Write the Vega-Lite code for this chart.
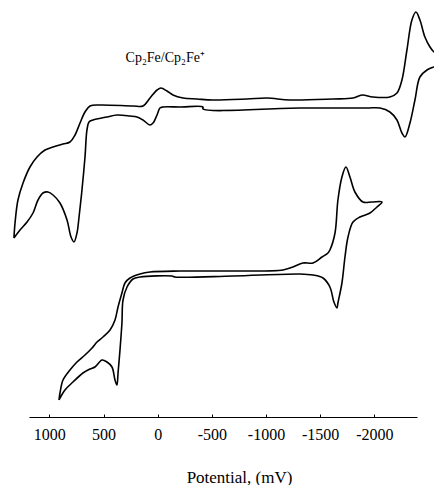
{
  "$schema": "https://vega.github.io/schema/vega-lite/v6.json",
  "width": 388,
  "height": 417,
  "autosize": {"type": "none"},
  "padding": {"left": 29, "right": 17, "top": 0, "bottom": 68},
  "config": {"view": {"stroke": null}, "font": "Liberation Serif"},
  "datasets": {
    "cv": [
      {"trace": "top", "i": 1, "potential": 1327, "current": 179},
      {"trace": "top", "i": 2, "potential": 1317, "current": 194},
      {"trace": "top", "i": 3, "potential": 1290, "current": 217},
      {"trace": "top", "i": 4, "potential": 1243, "current": 234},
      {"trace": "top", "i": 5, "potential": 1179, "current": 250},
      {"trace": "top", "i": 6, "potential": 1114, "current": 260},
      {"trace": "top", "i": 7, "potential": 1040, "current": 267},
      {"trace": "top", "i": 8, "potential": 966, "current": 270},
      {"trace": "top", "i": 9, "potential": 874, "current": 273},
      {"trace": "top", "i": 10, "potential": 810, "current": 275},
      {"trace": "top", "i": 11, "potential": 763, "current": 282},
      {"trace": "top", "i": 12, "potential": 717, "current": 294},
      {"trace": "top", "i": 13, "potential": 671, "current": 305},
      {"trace": "top", "i": 14, "potential": 625, "current": 311},
      {"trace": "top", "i": 15, "potential": 533, "current": 312},
      {"trace": "top", "i": 16, "potential": 228, "current": 311},
      {"trace": "top", "i": 17, "potential": 136, "current": 311},
      {"trace": "top", "i": 18, "potential": 71, "current": 319},
      {"trace": "top", "i": 19, "potential": 6, "current": 327},
      {"trace": "top", "i": 20, "potential": -30, "current": 329},
      {"trace": "top", "i": 21, "potential": -86, "current": 326},
      {"trace": "top", "i": 22, "potential": -141, "current": 322},
      {"trace": "top", "i": 23, "potential": -234, "current": 319},
      {"trace": "top", "i": 24, "potential": -363, "current": 318},
      {"trace": "top", "i": 25, "potential": -510, "current": 317},
      {"trace": "top", "i": 26, "potential": -824, "current": 318},
      {"trace": "top", "i": 27, "potential": -1009, "current": 319},
      {"trace": "top", "i": 28, "potential": -1221, "current": 317},
      {"trace": "top", "i": 29, "potential": -1618, "current": 318},
      {"trace": "top", "i": 30, "potential": -1803, "current": 319},
      {"trace": "top", "i": 31, "potential": -1886, "current": 322},
      {"trace": "top", "i": 32, "potential": -1987, "current": 320},
      {"trace": "top", "i": 33, "potential": -2144, "current": 320},
      {"trace": "top", "i": 34, "potential": -2209, "current": 324},
      {"trace": "top", "i": 35, "potential": -2255, "current": 337},
      {"trace": "top", "i": 36, "potential": -2301, "current": 367},
      {"trace": "top", "i": 37, "potential": -2347, "current": 397},
      {"trace": "top", "i": 38, "potential": -2384, "current": 405},
      {"trace": "top", "i": 39, "potential": -2421, "current": 397},
      {"trace": "top", "i": 40, "potential": -2467, "current": 380},
      {"trace": "top", "i": 41, "potential": -2514, "current": 370},
      {"trace": "top", "i": 42, "potential": -2551, "current": 365},
      {"trace": "top", "i": 43, "potential": -2606, "current": 362},
      {"trace": "top", "i": 44, "potential": -2652, "current": 358},
      {"trace": "top", "i": 45, "potential": -2606, "current": 352},
      {"trace": "top", "i": 46, "potential": -2551, "current": 350},
      {"trace": "top", "i": 47, "potential": -2486, "current": 347},
      {"trace": "top", "i": 48, "potential": -2421, "current": 340},
      {"trace": "top", "i": 49, "potential": -2375, "current": 317},
      {"trace": "top", "i": 50, "potential": -2329, "current": 294},
      {"trace": "top", "i": 51, "potential": -2283, "current": 280},
      {"trace": "top", "i": 52, "potential": -2255, "current": 284},
      {"trace": "top", "i": 53, "potential": -2209, "current": 297},
      {"trace": "top", "i": 54, "potential": -2144, "current": 305},
      {"trace": "top", "i": 55, "potential": -2052, "current": 309},
      {"trace": "top", "i": 56, "potential": -1932, "current": 309},
      {"trace": "top", "i": 57, "potential": -1314, "current": 309},
      {"trace": "top", "i": 58, "potential": -418, "current": 308},
      {"trace": "top", "i": 59, "potential": -418, "current": 310},
      {"trace": "top", "i": 60, "potential": -206, "current": 310},
      {"trace": "top", "i": 61, "potential": -49, "current": 310},
      {"trace": "top", "i": 62, "potential": -21, "current": 309},
      {"trace": "top", "i": 63, "potential": 6, "current": 302},
      {"trace": "top", "i": 64, "potential": 43, "current": 294},
      {"trace": "top", "i": 65, "potential": 71, "current": 292},
      {"trace": "top", "i": 66, "potential": 136, "current": 297},
      {"trace": "top", "i": 67, "potential": 191, "current": 300},
      {"trace": "top", "i": 68, "potential": 256, "current": 301},
      {"trace": "top", "i": 69, "potential": 376, "current": 302},
      {"trace": "top", "i": 70, "potential": 468, "current": 300},
      {"trace": "top", "i": 71, "potential": 597, "current": 297},
      {"trace": "top", "i": 72, "potential": 634, "current": 295},
      {"trace": "top", "i": 73, "potential": 653, "current": 287},
      {"trace": "top", "i": 74, "potential": 671, "current": 260},
      {"trace": "top", "i": 75, "potential": 699, "current": 227},
      {"trace": "top", "i": 76, "potential": 726, "current": 200},
      {"trace": "top", "i": 77, "potential": 745, "current": 184},
      {"trace": "top", "i": 78, "potential": 773, "current": 175},
      {"trace": "top", "i": 79, "potential": 800, "current": 180},
      {"trace": "top", "i": 80, "potential": 837, "current": 197},
      {"trace": "top", "i": 81, "potential": 902, "current": 214},
      {"trace": "top", "i": 82, "potential": 966, "current": 222},
      {"trace": "top", "i": 83, "potential": 1013, "current": 225},
      {"trace": "top", "i": 84, "potential": 1059, "current": 224},
      {"trace": "top", "i": 85, "potential": 1105, "current": 217},
      {"trace": "top", "i": 86, "potential": 1151, "current": 204},
      {"trace": "top", "i": 87, "potential": 1206, "current": 195},
      {"trace": "top", "i": 88, "potential": 1271, "current": 187},
      {"trace": "top", "i": 89, "potential": 1327, "current": 179},
      {"trace": "bottom", "i": 1, "potential": 911, "current": 17},
      {"trace": "bottom", "i": 2, "potential": 902, "current": 24},
      {"trace": "bottom", "i": 3, "potential": 874, "current": 37},
      {"trace": "bottom", "i": 4, "potential": 810, "current": 47},
      {"trace": "bottom", "i": 5, "potential": 745, "current": 55},
      {"trace": "bottom", "i": 6, "potential": 671, "current": 62},
      {"trace": "bottom", "i": 7, "potential": 606, "current": 69},
      {"trace": "bottom", "i": 8, "potential": 560, "current": 75},
      {"trace": "bottom", "i": 9, "potential": 505, "current": 80},
      {"trace": "bottom", "i": 10, "potential": 440, "current": 87},
      {"trace": "bottom", "i": 11, "potential": 394, "current": 97},
      {"trace": "bottom", "i": 12, "potential": 366, "current": 110},
      {"trace": "bottom", "i": 13, "potential": 330, "current": 124},
      {"trace": "bottom", "i": 14, "potential": 302, "current": 134},
      {"trace": "bottom", "i": 15, "potential": 256, "current": 139},
      {"trace": "bottom", "i": 16, "potential": 163, "current": 143},
      {"trace": "bottom", "i": 17, "potential": 71, "current": 145},
      {"trace": "bottom", "i": 18, "potential": -206, "current": 146},
      {"trace": "bottom", "i": 19, "potential": -695, "current": 146},
      {"trace": "bottom", "i": 20, "potential": -1157, "current": 147},
      {"trace": "bottom", "i": 21, "potential": -1249, "current": 150},
      {"trace": "bottom", "i": 22, "potential": -1341, "current": 154},
      {"trace": "bottom", "i": 23, "potential": -1434, "current": 154},
      {"trace": "bottom", "i": 24, "potential": -1517, "current": 160},
      {"trace": "bottom", "i": 25, "potential": -1572, "current": 164},
      {"trace": "bottom", "i": 26, "potential": -1590, "current": 167},
      {"trace": "bottom", "i": 27, "potential": -1637, "current": 184},
      {"trace": "bottom", "i": 28, "potential": -1664, "current": 217},
      {"trace": "bottom", "i": 29, "potential": -1701, "current": 240},
      {"trace": "bottom", "i": 30, "potential": -1738, "current": 250},
      {"trace": "bottom", "i": 31, "potential": -1775, "current": 240},
      {"trace": "bottom", "i": 32, "potential": -1821, "current": 225},
      {"trace": "bottom", "i": 33, "potential": -1895, "current": 215},
      {"trace": "bottom", "i": 34, "potential": -1978, "current": 215},
      {"trace": "bottom", "i": 35, "potential": -2071, "current": 215},
      {"trace": "bottom", "i": 36, "potential": -2024, "current": 210},
      {"trace": "bottom", "i": 37, "potential": -1960, "current": 204},
      {"trace": "bottom", "i": 38, "potential": -1867, "current": 200},
      {"trace": "bottom", "i": 39, "potential": -1803, "current": 195},
      {"trace": "bottom", "i": 40, "potential": -1757, "current": 180},
      {"trace": "bottom", "i": 41, "potential": -1729, "current": 160},
      {"trace": "bottom", "i": 42, "potential": -1701, "current": 134},
      {"trace": "bottom", "i": 43, "potential": -1664, "current": 114},
      {"trace": "bottom", "i": 44, "potential": -1655, "current": 109},
      {"trace": "bottom", "i": 45, "potential": -1627, "current": 115},
      {"trace": "bottom", "i": 46, "potential": -1590, "current": 130},
      {"trace": "bottom", "i": 47, "potential": -1526, "current": 139},
      {"trace": "bottom", "i": 48, "potential": -1434, "current": 142},
      {"trace": "bottom", "i": 49, "potential": -1314, "current": 143},
      {"trace": "bottom", "i": 50, "potential": -695, "current": 141},
      {"trace": "bottom", "i": 51, "potential": -160, "current": 140},
      {"trace": "bottom", "i": 52, "potential": -132, "current": 141},
      {"trace": "bottom", "i": 53, "potential": 163, "current": 140},
      {"trace": "bottom", "i": 54, "potential": 228, "current": 138},
      {"trace": "bottom", "i": 55, "potential": 283, "current": 130},
      {"trace": "bottom", "i": 56, "potential": 320, "current": 117},
      {"trace": "bottom", "i": 57, "potential": 330, "current": 94},
      {"trace": "bottom", "i": 58, "potential": 348, "current": 67},
      {"trace": "bottom", "i": 59, "potential": 366, "current": 44},
      {"trace": "bottom", "i": 60, "potential": 376, "current": 32},
      {"trace": "bottom", "i": 61, "potential": 394, "current": 37},
      {"trace": "bottom", "i": 62, "potential": 422, "current": 50},
      {"trace": "bottom", "i": 63, "potential": 468, "current": 55},
      {"trace": "bottom", "i": 64, "potential": 514, "current": 57},
      {"trace": "bottom", "i": 65, "potential": 579, "current": 50},
      {"trace": "bottom", "i": 66, "potential": 625, "current": 48},
      {"trace": "bottom", "i": 67, "potential": 690, "current": 44},
      {"trace": "bottom", "i": 68, "potential": 782, "current": 35},
      {"trace": "bottom", "i": 69, "potential": 856, "current": 27},
      {"trace": "bottom", "i": 70, "potential": 911, "current": 17}
    ],
    "notes": [
      {"potential": -70, "current": 355, "text": "Cp₂Fe/Cp₂Fe⁺"}
    ]
  },
  "layer": [
    {
      "data": {"name": "cv"},
      "mark": {"type": "line", "interpolate": "catmull-rom", "color": "black", "strokeWidth": 1.6},
      "encoding": {
        "x": {
          "field": "potential",
          "type": "quantitative",
          "title": "Potential, (mV)",
          "scale": {"domain": [-2394, 1188], "reverse": true, "nice": false, "zero": false},
          "axis": {
            "values": [1000, 500, 0, -500, -1000, -1500, -2000],
            "labelExpr": "'' + datum.value",
            "domainColor": "black",
            "domainWidth": 1.2,
            "tickColor": "black",
            "tickSize": -3,
            "labelColor": "black",
            "labelFont": "Liberation Serif",
            "labelFontSize": 16,
            "labelBaseline": "alphabetic",
            "labelPadding": 25,
            "grid": false,
            "titleFont": "Liberation Serif",
            "titleFontSize": 17,
            "titleFontWeight": "normal",
            "titleColor": "black",
            "titleBaseline": "alphabetic",
            "titleX": 210,
            "titleY": 65
          }
        },
        "y": {
          "field": "current",
          "type": "quantitative",
          "scale": {"domain": [0, 417], "nice": false, "zero": false},
          "axis": null
        },
        "detail": {"field": "trace"},
        "order": {"field": "i", "type": "quantitative"}
      }
    },
    {
      "data": {"name": "notes"},
      "mark": {"type": "text", "font": "Liberation Serif", "fontSize": 14, "color": "black", "align": "center", "baseline": "alphabetic"},
      "encoding": {
        "x": {"field": "potential", "type": "quantitative"},
        "y": {"field": "current", "type": "quantitative"},
        "text": {"field": "text"}
      }
    }
  ]
}
